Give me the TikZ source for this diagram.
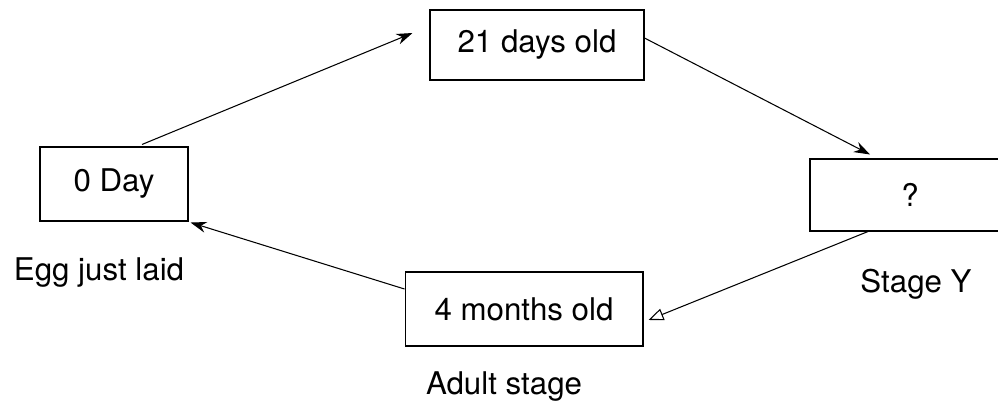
\documentclass[tikz,border=0pt]{standalone}
\usepackage{fontspec}
\setmainfont{TeX Gyre Heros}
\usetikzlibrary{arrows.meta}
\begin{document}
\begin{tikzpicture}[x=0.02cm, y=-0.02cm,
every node/.style={font=\fontsize{17.8}{21}\selectfont},
stagebox/.style={draw, line width=0.6pt, inner sep=0pt},
growth/.style={line width=0.6pt, -{Stealth[length=3.2mm,width=2.2mm]}},
backarrow/.style={line width=0.6pt, -{Triangle[open,length=3mm,width=2.4mm]}}]
\useasboundingbox (0,0) rectangle (998,416);
\clip (0,0) rectangle (998,416);
\node[stagebox, minimum width=2.96cm, minimum height=1.48cm] (zero) at (114,184) {0 Day};
\node[stagebox, minimum width=4.28cm, minimum height=1.40cm] (days) at (537,45) {21 days old};
\node[stagebox, minimum width=4.00cm, minimum height=1.44cm] (stage) at (910,195) {?};
\node[stagebox, minimum width=4.76cm, minimum height=1.48cm] (months) at (524,309) {4 months old};
\node[anchor=base] (egg) at (99,280) {Egg just laid};
\node[anchor=base] (stagey) at (916,292) {Stage Y};
\node[anchor=base] (adult) at (504,394) {Adult stage};
\draw[growth] ([xshift=0.56cm,yshift=0.04cm]zero.north) -- ([xshift=-0.34cm,yshift=0.24cm]days.west);
\draw[growth] ([yshift=0.14cm]days.east) -- ([xshift=-0.8cm,yshift=0.08cm]stage.north);
\draw[backarrow] ([xshift=-0.84cm]stage.south) -- ([xshift=0.1cm,yshift=-0.22cm]months.east);
\draw[growth] ([yshift=0.4cm]months.west) -- ([xshift=0.04cm,yshift=-0.02cm]zero.south east);
\end{tikzpicture}
\end{document}
